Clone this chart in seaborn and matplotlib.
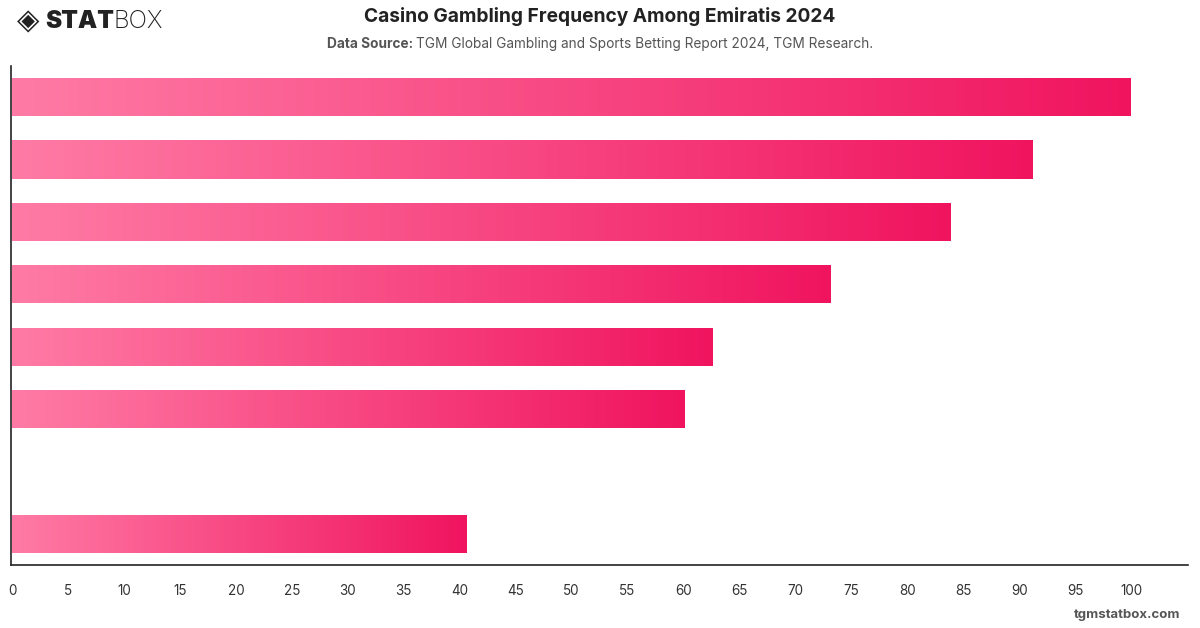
import numpy as np
import pandas as pd
import matplotlib
matplotlib.use("Agg")
import matplotlib.pyplot as plt
from matplotlib.colors import LinearSegmentedColormap
import seaborn as sb

# chart data
categories = ["Cat 1", "Cat 2", "Cat 3", "Cat 4", "Cat 5", "Cat 6", "Cat 7", "Cat 8"]
values = [100, 91.2, 83.9, 73.2, 62.6, 60.1, np.nan, 40.6]
x_ticks = list(range(0, 105, 5))

title = "Casino Gambling Frequency Among Emiratis 2024"
source_label = "Data Source:"
source_text = "TGM Global Gambling and Sports Betting Report 2024, TGM Research."

df = pd.DataFrame({"category": categories, "value": values})

sb.set_style("white")
plt.rcParams["font.family"] = ["Inter", "DejaVu Sans"]

fig = plt.figure(figsize=(12, 6.28), dpi=100)
ax = fig.add_axes([0.0092, 0.1003, 0.9808, 0.7947])

barPlot = sb.barplot(data=df, x="value", y="category", orient="h",
                     color="#f7447f", width=0.61, ax=ax)

# gradient fill for every bar, light pink at the left to deep pink at the end
grad = LinearSegmentedColormap.from_list("pinks", ["#ff7ba6", "#f0145f"])
ramp = np.linspace(0, 1, 256).reshape(1, -1)
for patch in list(ax.patches):
    w = patch.get_width()
    if not np.isfinite(w) or w <= 0:
        continue
    y0 = patch.get_y()
    h = patch.get_height()
    img = ax.imshow(ramp, cmap=grad, aspect="auto",
                    extent=[0, w, y0 + h, y0], zorder=2)
    img.set_clip_path(patch)
    patch.set_facecolor("none")
    patch.set_edgecolor("none")

ax.set_xlim(-0.1, 105.1)
ax.set_ylim(7.5, -0.5)
ax.set_xticks(x_ticks)
ax.set_xticklabels([str(t) for t in x_ticks], fontsize=9.7, color="#333333")
ax.tick_params(axis="x", length=0, pad=14)
ax.set_yticks([])
ax.set_xlabel("")
ax.set_ylabel("")
for side in ["top", "right"]:
    ax.spines[side].set_visible(False)
for side in ["left", "bottom"]:
    ax.spines[side].set_color("#222222")
    ax.spines[side].set_linewidth(1.2)

# titles
fig.text(0.5, 1 - 17 / 628, title, ha="center", va="center",
         fontsize=13.8, fontweight="bold", color="#222222")
fig.canvas.draw()
renderer = fig.canvas.get_renderer()
t1 = fig.text(0, 1 - 44 / 628, source_label + " ", ha="left", va="center",
              fontsize=9.85, fontweight="bold", color="#555555")
t2 = fig.text(0, 1 - 44 / 628, source_text, ha="left", va="center",
              fontsize=9.85, color="#555555")
w1 = t1.get_window_extent(renderer).width
w2 = t2.get_window_extent(renderer).width
start = 600 - (w1 + w2) / 2
t1.set_x(start / 1200)
t2.set_x((start + w1) / 1200)

# logo
fig.text(17 / 1200, 1 - 21 / 628, "\u25c8", ha="left", va="center",
         fontsize=21, color="#222222", family="DejaVu Sans")
s1 = fig.text(45 / 1200, 1 - 21 / 628, "STAT", ha="left", va="center",
              fontsize=17.5, fontweight="black", color="#222222")
ws = s1.get_window_extent(renderer).width
fig.text((45 + ws) / 1200, 1 - 21 / 628, "BOX", ha="left", va="center",
         fontsize=17.5, fontweight="light", color="#222222")

# footer
fig.text(1180 / 1200, 1 - 615 / 628, "tgmstatbox.com", ha="right", va="center",
         fontsize=9.5, fontweight="bold", color="#555555")

plt.savefig("out.png", dpi=100)
